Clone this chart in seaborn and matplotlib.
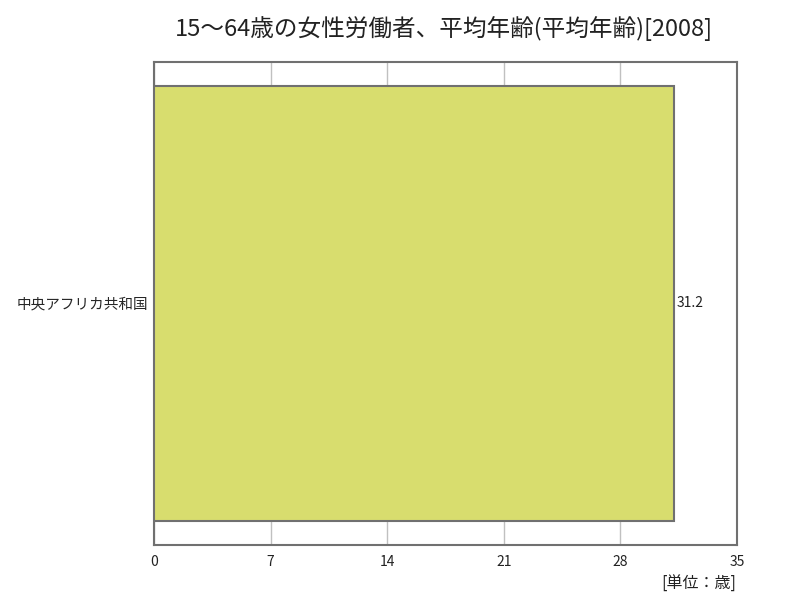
import matplotlib
matplotlib.use("Agg")
import matplotlib.pyplot as plt
import seaborn as sns
import pandas as pd

# data
countries = ["中央アフリカ共和国"]
ages = [31.2]
xticks = [0, 7, 14, 21, 28, 35]

sns.set_theme(style="white")
plt.rcParams['font.family'] = ['Noto Sans CJK JP', 'DejaVu Sans']

df = pd.DataFrame({"country": countries, "age": ages})

fig = plt.figure(figsize=(8, 6), dpi=100)
ax = fig.add_axes([0.1925, 0.0917, 0.72875, 0.805])

sns.barplot(data=df, x="age", y="country", orient="h", color="#d8dd6e",
            saturation=1, width=0.9, edgecolor="#707070", linewidth=1.5, ax=ax, zorder=3)

ax.set_xlim(0, 35)
ax.set_ylim(0.5, -0.5)
ax.set_xticks(xticks)
ax.set_xticklabels([str(t) for t in xticks], fontsize=10, color="#222222")
ax.tick_params(axis="x", length=0, pad=7)
ax.tick_params(axis="y", length=0, pad=4, labelsize=10.5)
ax.set_xlabel("")
ax.set_ylabel("")
ax.grid(axis="x", color="#c0c0c0", linewidth=1, zorder=0)
ax.set_axisbelow(True)
for s in ax.spines.values():
    s.set_color("#707070")
    s.set_linewidth(1.5)

for i, v in enumerate(ages):
    ax.text(v + 0.2, i, f"{v}", va="center", ha="left", fontsize=10, color="#222222")

fig.text(0.555, 0.953, "15～64歳の女性労働者、平均年齢(平均年齢)[2008]",
         ha="center", va="center", fontsize=17, color="#222222")
fig.text(0.92, 0.027, "[単位：歳]", ha="right", va="center", fontsize=11.5, color="#222222")

fig.savefig("out.png", dpi=100)
